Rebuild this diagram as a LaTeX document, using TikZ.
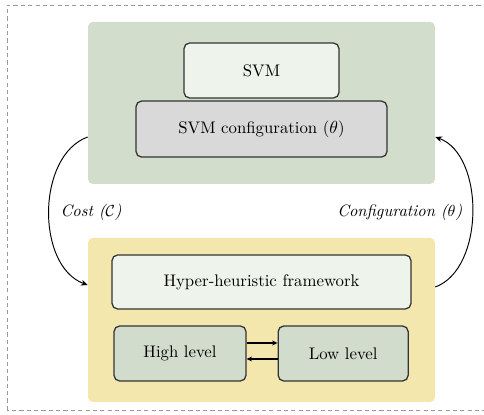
\documentclass[tikz,border=0pt]{standalone}
\usepackage{amsmath}
\usetikzlibrary{arrows.meta, calc, positioning}
\definecolor{hhSage}{HTML}{D3DDCB}
\definecolor{hhSand}{HTML}{F3E7AE}
\definecolor{hhPale}{HTML}{EEF3EC}
\definecolor{hhGrey}{HTML}{D9D9D9}
\definecolor{hhLeaf}{HTML}{D2DCCC}
\definecolor{hhFrame}{HTML}{9A9A9A}
\tikzset{
  outerframe/.style = {hhFrame, line width=0.6pt, dash pattern=on 2.6pt off 2pt},
  panel/.style      = {rounded corners=3pt, inner sep=0pt},
  block/.style      = {draw=black!80, line width=0.8pt, rounded corners=3.5pt,
                       inner sep=0pt, font=\fontsize{10.5}{12}\selectfont},
  loopline/.style   = {-{Stealth[length=1.5mm, width=1.3mm]}, line width=0.6pt},
  swapline/.style   = {-{Stealth[length=1.2mm, width=1.1mm]}, line width=0.7pt},
  lbl/.style        = {font=\fontsize{10.3}{12}\selectfont\itshape},
}

\begin{document}
\begin{tikzpicture}[x=0.022cm, y=0.022cm]
  \useasboundingbox (0,0) rectangle (484,415);
  \draw[outerframe] (7,5) rectangle (492,410);
  % upper panel: the classifier and its parameters
  \node[panel, fill=hhSage, minimum width=7.634cm, minimum height=3.564cm]
    (svmpanel) at (261.5,312) {};
  \node[block, fill=hhPale, minimum width=3.41cm, minimum height=1.21cm]
    (svm) at (261.5,344.5) {SVM};
  \node[block, fill=hhGrey, minimum width=5.522cm, minimum height=1.232cm,
        below=0.04cm of svm] (svmcfg) {SVM configuration ($\theta$)};
  % lower panel: the search
  \node[panel, fill=hhSand, minimum width=7.634cm, minimum height=3.608cm]
    (hhpanel) at (261.5,95) {};
  \node[block, fill=hhPale, minimum width=6.578cm, minimum height=1.188cm]
    (hyper) at (261.5,133) {Hyper-heuristic framework};
  \node[block, fill=hhLeaf, minimum width=2.904cm, minimum height=1.21cm]
    (high) at (180,61.5) {High level};
  \node[block, fill=hhLeaf, minimum width=2.86cm, minimum height=1.21cm,
        right=0.68cm of high] (low) {Low level};
  \draw[swapline] ($(high.east)+(0,10.5)$) -- ($(low.west)+(0,10.5)$);
  \draw[swapline] ($(low.west)+(0,-5.5)$) -- ($(high.east)+(0,-5.5)$);
  % feedback loop between the two panels
  \draw[loopline] ($(svmpanel.west)+(0,-34)$) to[out=200, in=160, looseness=0.95]
    ($(hhpanel.west)+(0,35)$);
  \draw[loopline] ($(hhpanel.east)+(0,33)$) to[out=20, in=-20, looseness=0.9]
    ($(svmpanel.east)+(0,-34)$);
  \node[lbl, anchor=west] (cost) at (55,203) {Cost ($\mathcal{C}$)};
  \node[lbl, anchor=east] (config) at (468,203) {Configuration ($\theta$)};
\end{tikzpicture}
\end{document}
